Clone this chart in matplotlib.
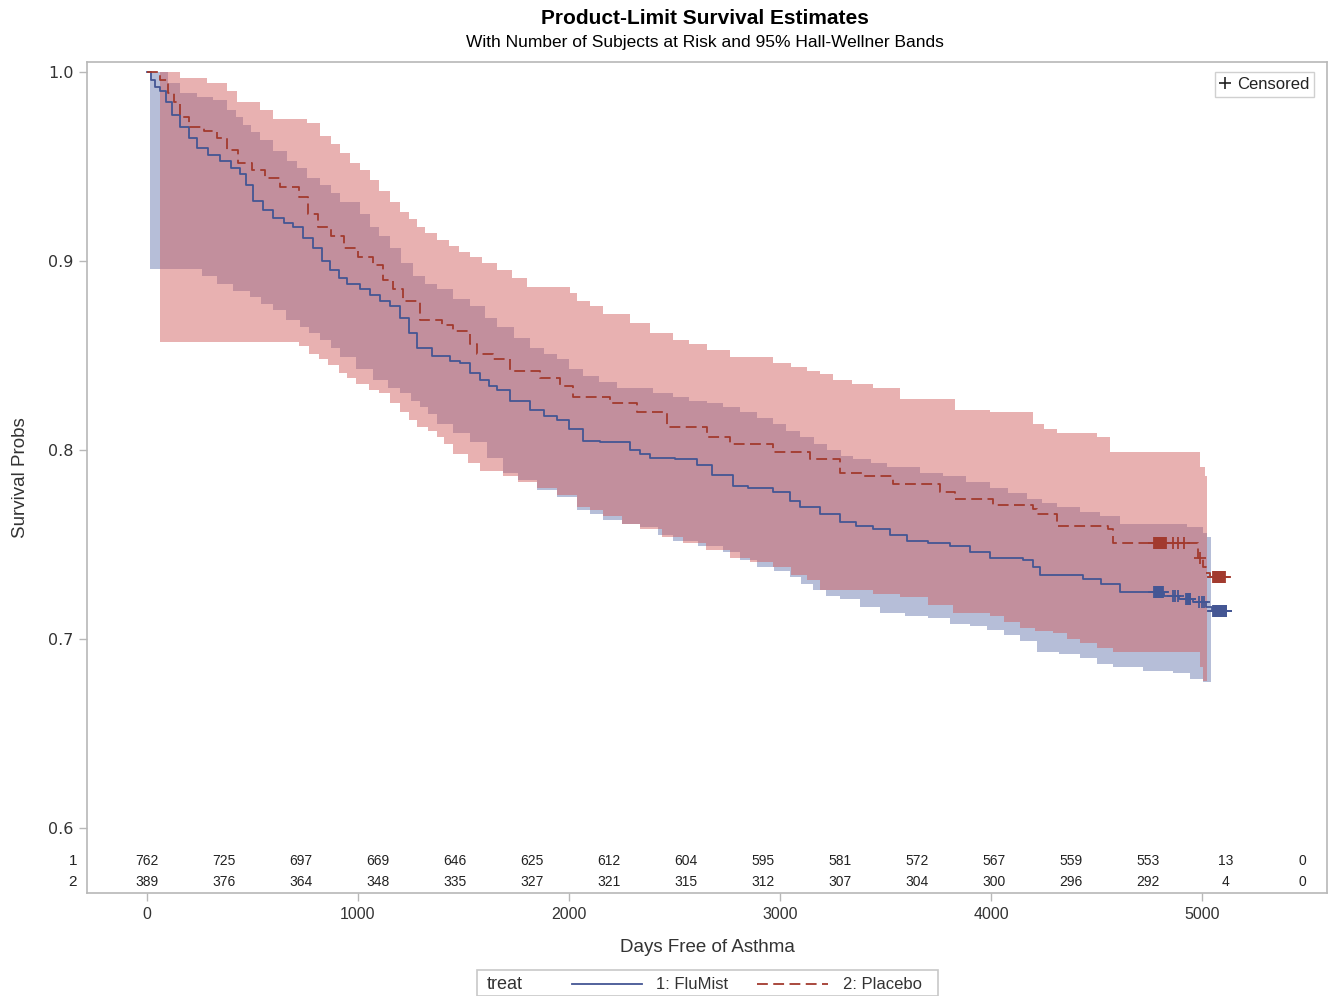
import matplotlib
matplotlib.use('Agg')
import matplotlib.pyplot as plt
import numpy as np
from matplotlib.lines import Line2D
from matplotlib.patches import Rectangle

plt.rcParams['font.family'] = ['Liberation Sans', 'DejaVu Sans']

# ---- data ----
# FluMist (treat 1): KM step curve
flu_t = [0, 20, 40, 62, 90, 120, 156, 200, 237, 290, 346, 400, 441, 470, 502, 550,
         597, 650, 692, 740, 787, 830, 867, 910, 948, 1010, 1057, 1104, 1152, 1200,
         1240, 1280, 1350, 1436, 1483, 1530, 1578, 1620, 1659, 1720, 1815, 1880,
         1943, 2000, 2066, 2147, 2289, 2336, 2384, 2500, 2607, 2680, 2777, 2850,
         2967, 3047, 3095, 3190, 3284, 3360, 3441, 3520, 3602, 3700, 3806, 3900,
         3995, 4152, 4200, 4232, 4436, 4520, 4611, 4818, 4890, 4955, 5020, 5045]
flu_s = [1.0, 0.996, 0.992, 0.990, 0.984, 0.977, 0.971, 0.965, 0.960, 0.956, 0.953,
         0.949, 0.946, 0.940, 0.932, 0.927, 0.923, 0.920, 0.918, 0.912, 0.907, 0.900,
         0.895, 0.891, 0.888, 0.885, 0.882, 0.879, 0.876, 0.870, 0.862, 0.854, 0.850,
         0.847, 0.846, 0.841, 0.837, 0.834, 0.832, 0.826, 0.821, 0.818, 0.816, 0.811,
         0.805, 0.804, 0.800, 0.798, 0.796, 0.795, 0.792, 0.787, 0.781, 0.780, 0.778,
         0.773, 0.770, 0.766, 0.762, 0.760, 0.758, 0.755, 0.752, 0.751, 0.749, 0.746,
         0.743, 0.742, 0.738, 0.734, 0.732, 0.729, 0.725, 0.7225, 0.7210, 0.7195,
         0.7170, 0.7150]
flu_end = 5133
flu_cens_t = [4772, 4776, 4780, 4784, 4788, 4792, 4796, 4800, 4804, 4808, 4812, 4815,
              4860, 4872, 4884,
              4925, 4929, 4933, 4937, 4941, 4945,
              4985, 4998, 5010,
              5052, 5056, 5060, 5064, 5068, 5072, 5076, 5080, 5084, 5088, 5092,
              5096, 5100, 5104, 5108, 5112, 5114]

# Placebo (treat 2)
pla_t = [0, 62, 100, 130, 156, 200, 270, 330, 380, 430, 500, 560, 630, 720, 765, 810,
         870, 935, 1000, 1071, 1118, 1165, 1213, 1294, 1400, 1450, 1531, 1564, 1640,
         1720, 1863, 1957, 2019, 2194, 2322, 2464, 2654, 2763, 2967, 3142, 3284, 3400,
         3536, 3758, 3829, 4009, 4199, 4218, 4313, 4555, 4578, 4981, 5005, 5020, 5038]
pla_s = [1.0, 0.996, 0.989, 0.984, 0.976, 0.971, 0.969, 0.965, 0.959, 0.952, 0.948,
         0.944, 0.939, 0.934, 0.925, 0.918, 0.913, 0.907, 0.902, 0.898, 0.890, 0.885,
         0.879, 0.869, 0.866, 0.863, 0.856, 0.851, 0.848, 0.842, 0.838, 0.834, 0.828,
         0.825, 0.820, 0.812, 0.807, 0.803, 0.799, 0.795, 0.788, 0.786, 0.782, 0.778,
         0.774, 0.771, 0.769, 0.766, 0.760, 0.758, 0.751, 0.743, 0.738, 0.735, 0.733]
pla_end = 5133
pla_cens_t = [4772, 4776, 4780, 4784, 4788, 4792, 4796, 4800, 4804, 4808, 4812, 4816,
              4820, 4824, 4828,
              4863, 4886, 4915, 4990,
              5052, 5056, 5060, 5064, 5068, 5072, 5076, 5080, 5084, 5088, 5092,
              5096, 5100, 5104, 5108]

# Hall-Wellner bands
flu_up_t = [15, 100, 156, 237, 313, 379, 420, 455, 495, 535, 597, 664, 710, 758, 820,
            870, 915, 1010, 1057, 1100, 1152, 1205, 1261, 1320, 1374, 1450, 1531, 1600,
            1659, 1740, 1815, 1880, 1943, 2000, 2066, 2140, 2227, 2400, 2493, 2570, 2654,
            2730, 2810, 2890, 2967, 3030, 3095, 3160, 3223, 3290, 3346, 3430, 3507, 3664,
            3773, 3880, 3995, 4080, 4170, 4240, 4313, 4420, 4517, 4611, 4929, 5005, 5024]
flu_up_s = [1.0, 0.994, 0.989, 0.987, 0.985, 0.980, 0.976, 0.972, 0.968, 0.964, 0.958,
            0.953, 0.949, 0.944, 0.940, 0.936, 0.931, 0.925, 0.918, 0.913, 0.907, 0.899,
            0.892, 0.888, 0.885, 0.880, 0.876, 0.870, 0.865, 0.859, 0.854, 0.851, 0.848,
            0.843, 0.839, 0.836, 0.833, 0.830, 0.828, 0.826, 0.825, 0.823, 0.820, 0.817,
            0.814, 0.810, 0.807, 0.803, 0.800, 0.797, 0.795, 0.793, 0.791, 0.788, 0.786,
            0.783, 0.780, 0.777, 0.774, 0.772, 0.770, 0.767, 0.765, 0.761, 0.759, 0.756,
            0.754]
flu_lo_t = [15, 260, 330, 410, 487, 540, 597, 660, 723, 770, 820, 870, 915, 990, 1070,
            1140, 1199, 1250, 1294, 1330, 1374, 1450, 1531, 1610, 1687, 1760, 1848, 1943,
            2038, 2100, 2161, 2250, 2336, 2420, 2493, 2610, 2730, 2810, 2891, 2970, 3047,
            3100, 3156, 3220, 3284, 3380, 3474, 3590, 3700, 3806, 3900, 3981, 4060, 4137,
            4218, 4320, 4422, 4500, 4578, 4720, 4863, 4943, 5005]
flu_lo_s = [0.896, 0.892, 0.888, 0.884, 0.881, 0.877, 0.874, 0.869, 0.865, 0.862, 0.858,
            0.854, 0.849, 0.843, 0.837, 0.833, 0.830, 0.826, 0.823, 0.819, 0.814, 0.809,
            0.804, 0.796, 0.788, 0.784, 0.779, 0.775, 0.768, 0.766, 0.763, 0.761, 0.759,
            0.755, 0.752, 0.749, 0.746, 0.742, 0.738, 0.736, 0.733, 0.729, 0.726, 0.723,
            0.721, 0.717, 0.714, 0.712, 0.711, 0.708, 0.707, 0.705, 0.702, 0.699, 0.693,
            0.692, 0.690, 0.687, 0.685, 0.683, 0.682, 0.679, 0.677]
flu_band_end = 5043

pla_up_t = [62, 156, 284, 379, 427, 535, 597, 758, 820, 870, 915, 960, 1010, 1057, 1100,
            1152, 1200, 1240, 1280, 1320, 1374, 1430, 1480, 1531, 1590, 1659, 1730, 1801,
            2005, 2038, 2100, 2161, 2289, 2384, 2493, 2570, 2654, 2763, 2967, 3050, 3128,
            3190, 3251, 3340, 3441, 3569, 3829, 3995, 4199, 4250, 4313, 4502, 4564, 4990,
            5014]
pla_up_s = [1.0, 0.997, 0.994, 0.990, 0.984, 0.980, 0.975, 0.973, 0.966, 0.962, 0.957,
            0.952, 0.948, 0.943, 0.937, 0.931, 0.926, 0.922, 0.918, 0.915, 0.911, 0.908,
            0.905, 0.902, 0.899, 0.895, 0.891, 0.886, 0.883, 0.879, 0.876, 0.872, 0.867,
            0.862, 0.858, 0.856, 0.853, 0.849, 0.846, 0.844, 0.842, 0.840, 0.837, 0.835,
            0.833, 0.827, 0.821, 0.820, 0.814, 0.811, 0.809, 0.807, 0.799, 0.791, 0.786]
pla_lo_t = [62, 720, 770, 815, 860, 910, 950, 990, 1050, 1100, 1150, 1199, 1240, 1280,
            1330, 1374, 1410, 1450, 1520, 1580, 1687, 1760, 1848, 1943, 2038, 2100, 2161,
            2250, 2336, 2440, 2540, 2650, 2763, 2860, 2967, 3050, 3128, 3190, 3441, 3569,
            3700, 3820, 3995, 4060, 4137, 4210, 4294, 4360, 4422, 4500, 4578, 4990, 5005]
pla_lo_s = [0.857, 0.855, 0.851, 0.848, 0.845, 0.841, 0.838, 0.835, 0.832, 0.830, 0.825,
            0.820, 0.816, 0.812, 0.810, 0.807, 0.803, 0.798, 0.793, 0.789, 0.786, 0.783,
            0.780, 0.776, 0.770, 0.768, 0.765, 0.761, 0.758, 0.754, 0.751, 0.747, 0.743,
            0.741, 0.738, 0.734, 0.731, 0.726, 0.724, 0.722, 0.718, 0.714, 0.712, 0.709,
            0.706, 0.704, 0.703, 0.700, 0.698, 0.695, 0.693, 0.685, 0.678]
pla_band_end = 5024

# number at risk
risk_times = [0, 365, 730, 1095, 1460, 1825, 2190, 2555, 2920, 3285, 3650, 4015,
              4380, 4745, 5110, 5475]
risk_flu = [762, 725, 697, 669, 646, 625, 612, 604, 595, 581, 572, 567, 559, 553, 13, 0]
risk_pla = [389, 376, 364, 348, 335, 327, 321, 315, 312, 307, 304, 300, 296, 292, 4, 0]

BLUE = '#445694'
RED = '#A23A2E'
BLUE_FILL = '#6F7EB3'
RED_FILL = '#D05B5B'
GRID = '#b8b8b8'


def step_xy(t, s, t_end):
    xs, ys = [], []
    for i in range(len(t)):
        xn = t[i + 1] if i + 1 < len(t) else t_end
        xs += [t[i], xn]
        ys += [s[i], s[i]]
    return xs, ys


def surv_at(t, s, x):
    idx = np.searchsorted(t, x, side='right') - 1
    return np.array(s)[idx]


fig = plt.figure(figsize=(13.32, 9.96), dpi=100)
ax = fig.add_axes([87 / 1332, 1 - 893 / 996, 1240 / 1332, 831 / 996])

# bands
for (ut, us, lt, ls, te, col, a) in [
        (flu_up_t, flu_up_s, flu_lo_t, flu_lo_s, flu_band_end, BLUE_FILL, 0.5),
        (pla_up_t, pla_up_s, pla_lo_t, pla_lo_s, pla_band_end, RED_FILL, 0.47)]:
    ux, uy = step_xy(ut, us, te)
    lx, ly = step_xy(lt, ls, te)
    ax.fill(ux + lx[::-1], uy + ly[::-1], color=col, alpha=a, lw=0, zorder=1)

# curves
x, y = step_xy(flu_t, flu_s, flu_end)
ax.plot(x, y, color=BLUE, lw=1.3, zorder=3)
x, y = step_xy(pla_t, pla_s, pla_end)
ax.plot(x, y, color=RED, lw=1.3, dashes=(6, 3), zorder=3)

# censored marks
ax.plot(flu_cens_t, surv_at(flu_t, flu_s, flu_cens_t), ls='none', marker='+',
        ms=8, mew=1.3, color=BLUE, zorder=4)
ax.plot(pla_cens_t, surv_at(pla_t, pla_s, pla_cens_t), ls='none', marker='+',
        ms=8, mew=1.3, color=RED, zorder=4)

ax.set_xlim(-284, 5592)
ax.set_ylim(0.5656, 1.0053)
ax.set_xticks([0, 1000, 2000, 3000, 4000, 5000])
ax.set_yticks([0.6, 0.7, 0.8, 0.9, 1.0])
ax.set_yticklabels(['0.6', '0.7', '0.8', '0.9', '1.0'], family='DejaVu Sans')
ax.tick_params(axis='both', colors=GRID, labelcolor='#333333', labelsize=11.5,
               length=6, width=1)
ax.tick_params(axis='x', pad=4)
for sp in ax.spines.values():
    sp.set_color(GRID)
    sp.set_linewidth(1.2)

ax.set_xlabel('Days Free of Asthma', fontsize=13.5, color='#333333', labelpad=12)
ax.set_ylabel('Survival Probs', fontsize=13.5, color='#333333', labelpad=14)

# at-risk table inside the axes
for xt, n1, n2 in zip(risk_times, risk_flu, risk_pla):
    ax.text(xt, 0.5825, str(n1), ha='center', va='center', fontsize=10, color='#222222')
    ax.text(xt, 0.5714, str(n2), ha='center', va='center', fontsize=10, color='#222222')
trans = ax.get_yaxis_transform()
ax.text(-0.0113, 0.5825, '1', transform=trans, ha='center', va='center', fontsize=11,
        color='#222222')
ax.text(-0.0113, 0.5714, '2', transform=trans, ha='center', va='center', fontsize=11,
        color='#222222')

# censored legend
cl = ax.legend([Line2D([], [], ls='none', marker='+', color='#222222', ms=8, mew=1.2)],
               ['Censored'], loc='upper right', bbox_to_anchor=(0.9965, 0.998),
               fontsize=12, handlelength=0.6, handletextpad=0.4, borderpad=0.3,
               fancybox=False, edgecolor='#d0d0d0', framealpha=1)
for t in cl.get_texts():
    t.set_color('#222222')

# titles
fig.text(0.5295, 1 - 19 / 996, 'Product-Limit Survival Estimates', ha='center',
         va='center', fontsize=15, fontweight='bold')
fig.text(0.5295, 1 - 42 / 996, 'With Number of Subjects at Risk and 95% Hall-Wellner Bands',
         ha='center', va='center', fontsize=12.5)

# bottom legend
fig.patches.append(Rectangle((477 / 1332, 0.0), (938 - 477) / 1332, (996 - 970) / 996,
                             transform=fig.transFigure, fill=False, edgecolor='#c8c8c8',
                             lw=1.2))
fig.text(487 / 1332, 1 - 984 / 996, 'treat', ha='left', va='center', fontsize=13,
         color='#333333')
fig.lines.append(Line2D([572 / 1332, 642 / 1332], [1 - 984 / 996] * 2,
                        transform=fig.transFigure, color=BLUE, lw=1.3))
fig.text(656 / 1332, 1 - 984 / 996, '1: FluMist', ha='left', va='center', fontsize=12,
         color='#333333')
fig.lines.append(Line2D([757 / 1332, 828 / 1332], [1 - 984 / 996] * 2,
                        transform=fig.transFigure, color=RED, lw=1.3, dashes=(6, 3)))
fig.text(843 / 1332, 1 - 984 / 996, '2: Placebo', ha='left', va='center', fontsize=12,
         color='#333333')

fig.savefig('out.png', dpi=100)
